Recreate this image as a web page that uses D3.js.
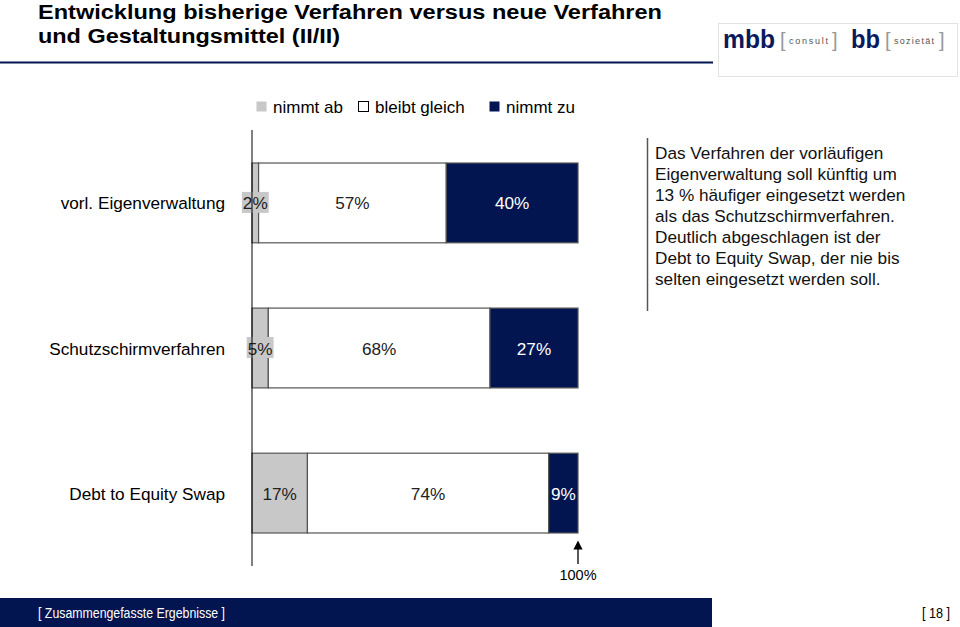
<!DOCTYPE html>
<html><head><meta charset="utf-8">
<script src="https://cdn.jsdelivr.net/npm/d3@7"></script>
<style>body{margin:0;background:#fff}svg{display:block}</style>
</head><body>
<script>
const categories = ["vorl. Eigenverwaltung", "Schutzschirmverfahren", "Debt to Equity Swap"];
const seriesKeys = ["nimmt ab", "bleibt gleich", "nimmt zu"];
const nimmtAb = [2, 5, 17];
const bleibtGleich = [57, 68, 74];
const nimmtZu = [40, 27, 9];
const titleLines = ["Entwicklung bisherige Verfahren versus neue Verfahren", "und Gestaltungsmittel (II/II)"];
const noteLines = ["Das Verfahren der vorläufigen", "Eigenverwaltung soll künftig um", "13 % häufiger eingesetzt werden", "als das Schutzschirmverfahren.", "Deutlich abgeschlagen ist der", "Debt to Equity Swap, der nie bis", "selten eingesetzt werden soll."];
const footerLeft = "[ Zusammengefasste Ergebnisse ]";
const footerRight = "[ 18 ]";
const axisEndLabel = "100%";

const W = 960, H = 627;
const NAVY = "#031550", GRAY = "#c8c8c8";
const colors = {"nimmt ab": GRAY, "bleibt gleich": "#ffffff", "nimmt zu": NAVY};
const FONT = "'Liberation Sans', Arial, sans-serif";

const svg = d3.select("body").append("svg").attr("width", W).attr("height", H)
  .style("font-family", FONT);

// Title
const titleWidths = [624, 302];
svg.append("g").selectAll("text").data(titleLines).join("text")
  .attr("x", 38).attr("y", (d, i) => 18.5 + i * 24.5)
  .attr("font-size", 20).attr("font-weight", "bold").attr("fill", "#000")
  .attr("textLength", (d, i) => titleWidths[i]).attr("lengthAdjust", "spacingAndGlyphs")
  .text(d => d);
svg.append("line").attr("x1", 0).attr("x2", 713).attr("y1", 62.5).attr("y2", 62.5)
  .attr("stroke", NAVY).attr("stroke-width", 2);

// Logo box
const logo = svg.append("g");
logo.append("rect").attr("x", 718.5).attr("y", 23.5).attr("width", 239).attr("height", 53)
  .attr("fill", "#fff").attr("stroke", "#e2e2e2");
function logoText(x, y, size, txt, opts) {
  const t = logo.append("text").attr("x", x).attr("y", y).attr("font-size", size).text(txt);
  Object.entries(opts).forEach(([k, v]) => t.attr(k, v));
}
logoText(723, 48, 25, "mbb", {"font-weight": "bold", fill: "#0a1a5c", textLength: 52, lengthAdjust: "spacingAndGlyphs"});
logoText(780, 47, 20, "[", {fill: "#999"});
logoText(789, 44, 9, "consult", {fill: "#555", textLength: 39, lengthAdjust: "spacing"});
logoText(832, 47, 20, "]", {fill: "#999"});
logoText(851, 48, 25, "bb", {"font-weight": "bold", fill: "#0a1a5c", textLength: 29, lengthAdjust: "spacingAndGlyphs"});
logoText(885, 47, 20, "[", {fill: "#999"});
logoText(894, 44, 9, "sozietät", {fill: "#555", textLength: 40, lengthAdjust: "spacing"});
logoText(939, 47, 20, "]", {fill: "#999"});

// Data & scales
const rows = categories.map((c, i) => ({cat: c, "nimmt ab": nimmtAb[i], "bleibt gleich": bleibtGleich[i], "nimmt zu": nimmtZu[i]}));
const stacked = d3.stack().keys(seriesKeys).offset(d3.stackOffsetExpand)(rows);
const x = d3.scaleLinear().domain([0, 1]).range([252, 578]);
const y = d3.scaleBand().domain(categories).range([134, 562]).paddingInner(0.45).paddingOuter(0.2);

// Legend
const legendX = [256, 358, 489];
const legend = svg.append("g");
seriesKeys.forEach((k, i) => {
  legend.append("rect").attr("x", legendX[i] + 0.5).attr("y", 101.5).attr("width", 10).attr("height", 10)
    .attr("fill", colors[k]).attr("stroke", k === "bleibt gleich" ? "#000" : "none");
  legend.append("text").attr("x", legendX[i] + 17).attr("y", 113).attr("font-size", 17).text(k);
});

// Bars
const g = svg.append("g");
stacked.forEach(s => {
  g.selectAll(null).data(s).join("rect")
    .attr("x", d => x(d[0])).attr("width", d => x(d[1]) - x(d[0]))
    .attr("y", d => y(d.data.cat)).attr("height", y.bandwidth())
    .attr("fill", colors[s.key]).attr("stroke", "#555").attr("stroke-width", 1.2);
});

// Axis line
svg.append("line").attr("x1", x(0)).attr("x2", x(0)).attr("y1", 130).attr("y2", 566)
  .attr("stroke", "#000").attr("stroke-width", 1);

// Category labels
svg.append("g").selectAll("text").data(categories).join("text")
  .attr("x", 225).attr("y", d => y(d) + y.bandwidth() / 2 + 6.5)
  .attr("text-anchor", "end").attr("font-size", 17.2).text(d => d);

// Value labels
stacked.forEach(s => {
  s.forEach(d => {
    const val = d.data[s.key];
    const cx = (x(d[0]) + x(d[1])) / 2;
    const cy = y(d.data.cat) + y.bandwidth() / 2;
    const w = x(d[1]) - x(d[0]);
    const t = g.append("text").attr("x", cx).attr("y", cy + 6.5).attr("text-anchor", "middle")
      .attr("font-size", 17.2).attr("fill", s.key === "nimmt zu" ? "#fff" : "#222").text(val + "%");
    if (w < 30) {
      const bb = t.node().getBBox();
      g.insert("rect", () => t.node()).attr("x", bb.x - 1).attr("y", cy - 11)
        .attr("width", bb.width + 2).attr("height", 21).attr("fill", colors[s.key]);
    }
  });
});

// 100% arrow
svg.append("defs").append("marker").attr("id", "arr").attr("viewBox", "0 0 10 10")
  .attr("refX", 5).attr("refY", 5).attr("markerWidth", 7).attr("markerHeight", 7).attr("orient", "auto")
  .append("path").attr("d", "M0,0 L10,5 L0,10 z").attr("fill", "#000");
svg.append("line").attr("x1", x(1)).attr("x2", x(1)).attr("y1", 564).attr("y2", 545)
  .attr("stroke", "#000").attr("stroke-width", 1.3).attr("marker-end", "url(#arr)");
svg.append("text").attr("x", x(1)).attr("y", 580).attr("text-anchor", "middle").attr("font-size", 14.5).text(axisEndLabel);

// Note
svg.append("line").attr("x1", 647.5).attr("x2", 647.5).attr("y1", 138).attr("y2", 311)
  .attr("stroke", "#555").attr("stroke-width", 1.5);
svg.append("g").selectAll("text").data(noteLines).join("text")
  .attr("x", 655).attr("y", (d, i) => 159 + i * 21).attr("font-size", 17.2).attr("fill", "#111").text(d => d);

// Footer
svg.append("rect").attr("x", 0).attr("y", 598).attr("width", 712).attr("height", 29).attr("fill", NAVY);
svg.append("text").attr("x", 38).attr("y", 618).attr("font-size", 14).attr("fill", "#fff")
  .attr("textLength", 187).attr("lengthAdjust", "spacingAndGlyphs").text(footerLeft);
svg.append("text").attr("x", 922).attr("y", 618).attr("font-size", 14)
  .attr("textLength", 28).attr("lengthAdjust", "spacingAndGlyphs").text(footerRight);
</script>
</body></html>
